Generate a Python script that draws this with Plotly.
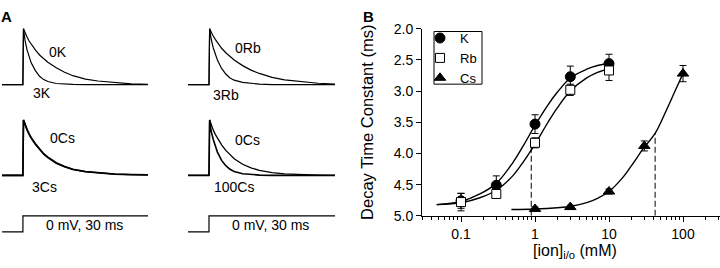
import plotly.graph_objects as go

W, H = 720, 268
FONT = "Liberation Sans, Arial, sans-serif"

# ---------------- Panel B data ----------------
conc = [0.1, 0.3, 1, 3, 10]
k_tau = [4.76, 4.51, 3.53, 2.77, 2.56]
k_err = [0.12, 0.15, 0.15, 0.17, 0.15]
rb_tau = [4.78, 4.65, 3.83, 2.98, 2.67]
rb_err = [0.14, 0.03, 0.08, 0.09, 0.16]
cs_conc = [1, 3, 10, 30, 100]
cs_tau = [4.89, 4.86, 4.61, 3.88, 2.72]
cs_err = [0.03, 0.03, 0.04, 0.08, 0.13]

fit_conc_kr = [0.047, 0.1, 0.18, 0.3, 0.5, 0.7, 1.0, 1.5, 2.0, 3.0, 5.0, 7.0, 11]
k_fit = [4.82, 4.77, 4.65, 4.48, 4.15, 3.87, 3.55, 3.22, 3.02, 2.79, 2.65, 2.59, 2.55]
rb_fit = [4.82, 4.79, 4.71, 4.59, 4.36, 4.13, 3.85, 3.50, 3.27, 3.00, 2.79, 2.70, 2.63]
cs_fit_conc = [0.48, 1, 2, 3, 5, 7, 10, 15, 20, 30, 42, 60, 80, 100]
cs_fit = [4.90, 4.89, 4.87, 4.85, 4.79, 4.72, 4.61, 4.40, 4.20, 3.90, 3.68, 3.30, 2.97, 2.72]

half_conc_kr = 0.89
half_tau_kr = 3.90
half_conc_cs = 42
half_tau_cs = 3.68
axis_bottom_tau = 5.0

x_tickvals = [0.1, 1, 10, 100]
x_ticktext = ["0.1", "1", "10", "100"]
x_minor = [0.03, 0.04, 0.05, 0.06, 0.07, 0.08, 0.09,
           0.2, 0.3, 0.4, 0.5, 0.6, 0.7, 0.8, 0.9,
           2, 3, 4, 5, 6, 7, 8, 9,
           20, 30, 40, 50, 60, 70, 80, 90, 200, 300]
y_tickvals = [2.0, 2.5, 3.0, 3.5, 4.0, 4.5, 5.0]
y_ticktext = ["2.0", "2.5", "3.0", "3.5", "4.0", "4.5", "5.0"]

# ---------------- Panel A data (normalised current vs time, ms) ----------------
t_ms = [-5, 0, 0.15, 0.5, 1, 1.5, 2, 3, 4, 5, 6, 8, 10, 12, 15, 18, 22, 26, 30]
i_0K = [0, 0, 1, 0.93, 0.85, 0.78, 0.72, 0.62, 0.53, 0.46, 0.40, 0.30, 0.22, 0.16, 0.10, 0.065, 0.035, 0.015, 0.005]
i_3K = [0, 0, 1, 0.80, 0.62, 0.49, 0.39, 0.25, 0.15, 0.09, 0.055, 0.02, 0.01, 0.005, 0, 0, 0, 0, 0]
i_0Rb = [0, 0, 1, 0.94, 0.87, 0.81, 0.75, 0.65, 0.57, 0.50, 0.44, 0.34, 0.26, 0.20, 0.13, 0.085, 0.05, 0.025, 0.01]
i_3Rb = [0, 0, 1, 0.82, 0.66, 0.54, 0.44, 0.29, 0.19, 0.12, 0.08, 0.04, 0.02, 0.01, 0, 0, 0, 0, 0]
i_0Cs_a = [0, 0, 1, 0.92, 0.83, 0.75, 0.68, 0.57, 0.47, 0.39, 0.33, 0.23, 0.16, 0.11, 0.07, 0.045, 0.025, 0.015, 0.01]
i_3Cs = [0, 0, 1, 0.91, 0.82, 0.74, 0.67, 0.56, 0.46, 0.38, 0.32, 0.22, 0.155, 0.105, 0.065, 0.04, 0.02, 0.012, 0.008]
i_0Cs_b = [0, 0, 1, 0.91, 0.82, 0.74, 0.67, 0.55, 0.45, 0.37, 0.30, 0.20, 0.135, 0.09, 0.05, 0.027, 0.012, 0.005, 0]
i_100Cs = [0, 0, 1, 0.80, 0.65, 0.52, 0.42, 0.27, 0.175, 0.11, 0.07, 0.03, 0.013, 0.005, 0, 0, 0, 0, 0]

pulse_t = [-5, 0, 0, 30]
pulse_mv = [-80, -80, 0, 0]

fig = go.Figure()

# ---------- Panel B ----------
line_style = dict(color="black", width=1.4)
fig.add_trace(go.Scatter(x=fit_conc_kr, y=k_fit, mode="lines", line=dict(shape="spline", **line_style),
                         showlegend=False, hoverinfo="skip", xaxis="x", yaxis="y"))
fig.add_trace(go.Scatter(x=fit_conc_kr, y=rb_fit, mode="lines", line=dict(shape="spline", **line_style),
                         showlegend=False, hoverinfo="skip", xaxis="x", yaxis="y"))
fig.add_trace(go.Scatter(x=cs_fit_conc, y=cs_fit, mode="lines", line=dict(shape="spline", **line_style),
                         showlegend=False, hoverinfo="skip", xaxis="x", yaxis="y"))
fig.add_trace(go.Scatter(x=[half_conc_kr, half_conc_kr], y=[axis_bottom_tau, half_tau_kr], mode="lines",
                         line=dict(color="black", width=1, dash="6px,3px"), showlegend=False, xaxis="x", yaxis="y"))
fig.add_trace(go.Scatter(x=[half_conc_cs, half_conc_cs], y=[axis_bottom_tau, half_tau_cs], mode="lines",
                         line=dict(color="black", width=1, dash="6px,3px"), showlegend=False, xaxis="x", yaxis="y"))

err_style = dict(type="data", visible=True, color="black", thickness=1, width=3.5)
fig.add_trace(go.Scatter(x=conc, y=k_tau, mode="markers", name="K",
                         marker=dict(symbol="circle", size=10, color="black", line=dict(color="black", width=1)),
                         error_y=dict(array=k_err, **err_style), xaxis="x", yaxis="y"))
fig.add_trace(go.Scatter(x=conc, y=rb_tau, mode="markers", name="Rb",
                         marker=dict(symbol="square", size=9, color="white", line=dict(color="black", width=1)),
                         error_y=dict(array=rb_err, **err_style), xaxis="x", yaxis="y"))
fig.add_trace(go.Scatter(x=cs_conc, y=cs_tau, mode="markers", name="Cs",
                         marker=dict(symbol="triangle-up", size=10, color="black", line=dict(color="black", width=1)),
                         error_y=dict(array=cs_err, **err_style), xaxis="x", yaxis="y"))

# ---------- Panel A ----------
def add_trace_line(y, ax, width=1.1):
    fig.add_trace(go.Scatter(x=t_ms, y=y, mode="lines", line=dict(color="black", width=width),
                             showlegend=False, hoverinfo="skip", xaxis="x" + ax, yaxis="y" + ax))

add_trace_line(i_0K, "2", 1.2)
add_trace_line(i_3K, "2", 1.2)
add_trace_line(i_0Rb, "3", 1.2)
add_trace_line(i_3Rb, "3", 1.2)
add_trace_line(i_0Cs_a, "4", 1.6)
add_trace_line(i_3Cs, "4", 1.6)
add_trace_line(i_0Cs_b, "5", 1.3)
add_trace_line(i_100Cs, "5", 1.6)
for ax in ("6", "7"):
    fig.add_trace(go.Scatter(x=pulse_t, y=pulse_mv, mode="lines", line=dict(color="black", width=1.2),
                             showlegend=False, hoverinfo="skip", xaxis="x" + ax, yaxis="y" + ax))

def px_x(p):
    return p / W

def px_y(p):
    return 1 - p / H

hidden = dict(visible=False, fixedrange=True)
tick_font = dict(family=FONT, size=14, color="black")

fig.update_layout(
    width=W, height=H,
    margin=dict(l=0, r=0, t=0, b=0),
    paper_bgcolor="white", plot_bgcolor="white",
    font=dict(family=FONT, size=14, color="black"),
    xaxis=dict(domain=[px_x(422), 1.0], type="log", range=[-1.527, 2.5],
               showline=True, linecolor="black", linewidth=1,
               ticks="outside", ticklen=5, tickwidth=1, tickcolor="black",
               tickmode="array", tickvals=x_tickvals, ticktext=x_ticktext,
               minor=dict(ticks="outside", ticklen=3, tickwidth=1, tickcolor="black",
                          tickmode="array", tickvals=x_minor),
               showgrid=False, zeroline=False, tickfont=tick_font,
               anchor="y"),
    yaxis=dict(domain=[px_y(221), px_y(22)], range=[5.0, 2.0],
               showline=True, linecolor="black", linewidth=1,
               ticks="outside", ticklen=5, tickwidth=1, tickcolor="black",
               tickmode="array", tickvals=y_tickvals, ticktext=y_ticktext,
               showgrid=False, zeroline=False, tickfont=tick_font,
               title=dict(text="Decay Time Constant (ms)", font=dict(family=FONT, size=16.5)),
               anchor="x"),
    xaxis2=dict(domain=[px_x(2), px_x(148)], range=[-5, 30], anchor="y2", **hidden),
    yaxis2=dict(domain=[px_y(95), px_y(10)], range=[-0.2269, 1.2017], anchor="x2", **hidden),
    xaxis3=dict(domain=[px_x(188), px_x(335)], range=[-5, 30], anchor="y3", **hidden),
    yaxis3=dict(domain=[px_y(95), px_y(10)], range=[-0.2269, 1.2017], anchor="x3", **hidden),
    xaxis4=dict(domain=[px_x(2), px_x(148)], range=[-5, 30], anchor="y4", **hidden),
    yaxis4=dict(domain=[px_y(195), px_y(105)], range=[-0.2881, 1.2373], anchor="x4", **hidden),
    xaxis5=dict(domain=[px_x(188), px_x(335)], range=[-5, 30], anchor="y5", **hidden),
    yaxis5=dict(domain=[px_y(195), px_y(105)], range=[-0.2881, 1.2373], anchor="x5", **hidden),
    xaxis6=dict(domain=[px_x(0), px_x(148)], range=[-5.5, 30], anchor="y6", **hidden),
    yaxis6=dict(domain=[px_y(245), px_y(210)], range=[-112.9, 51.8], anchor="x6", **hidden),
    xaxis7=dict(domain=[px_x(188), px_x(335)], range=[-5, 30], anchor="y7", **hidden),
    yaxis7=dict(domain=[px_y(245), px_y(210)], range=[-112.9, 51.8], anchor="x7", **hidden),
    legend=dict(x=px_x(420), y=px_y(16), xanchor="left", yanchor="top",
                bgcolor="rgba(0,0,0,0)", borderwidth=0,
                font=dict(family=FONT, size=13, color="black"),
                itemwidth=30, tracegroupgap=0),
    showlegend=True,
)

# legend frame
fig.add_shape(type="rect", xref="paper", yref="paper",
              x0=px_x(434), x1=px_x(482), y0=px_y(81), y1=px_y(25),
              line=dict(color="black", width=1), fillcolor="rgba(0,0,0,0)", layer="above")

labels = [
    ("<b>A</b>", 6, 9, 15), ("<b>B</b>", 368, 9, 15),
    ("0K", 58, 47, 14), ("3K", 41.5, 90, 14),
    ("0Rb", 247.5, 43, 14), ("3Rb", 225.7, 92, 14),
    ("0Cs", 62, 138.5, 14), ("3Cs", 44.7, 190.5, 14),
    ("0Cs", 247, 140, 14), ("100Cs", 234, 190.5, 14),
    ("0 mV, 30 ms", 84, 231, 14), ("0 mV, 30 ms", 270, 231, 14),
    ("[ion]<sub>i/o</sub> (mM)", 575, 258.5, 16),
]
for txt, x, y, size in labels:
    fig.add_annotation(text=txt, xref="paper", yref="paper",
                       x=px_x(x), y=px_y(y), xanchor="center", yanchor="middle", showarrow=False,
                       font=dict(family=FONT, size=size, color="black"))

fig.write_html("out.html", config={"displayModeBar": False},
               post_script="document.body.style.margin='0';document.body.style.overflow='hidden';")
